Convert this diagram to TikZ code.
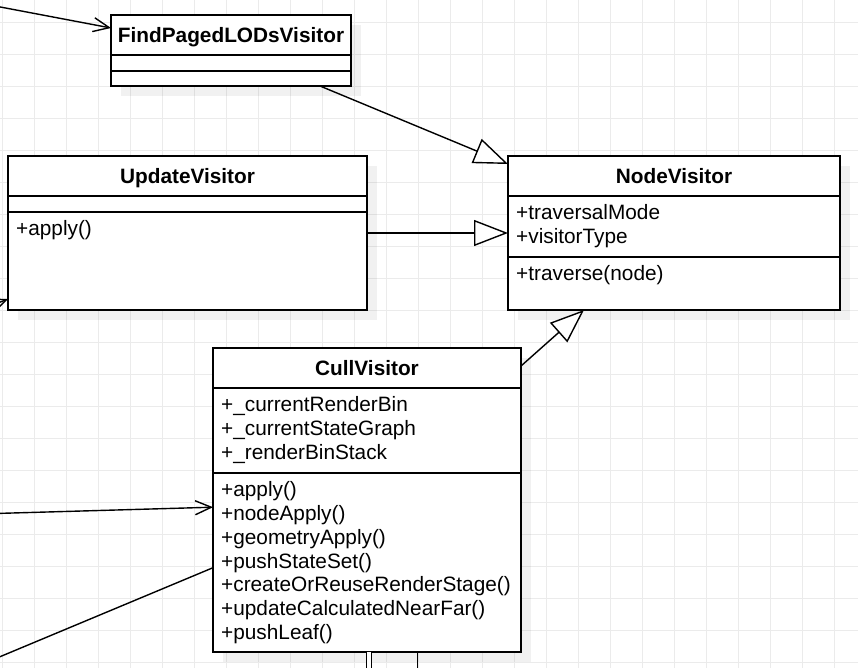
\documentclass[tikz,border=0pt]{standalone}
\usepackage{fontspec}
\setmainfont{Liberation Sans}
\usetikzlibrary{arrows.meta,backgrounds}

\definecolor{gridgray}{HTML}{EBEBEB}
\newcommand{\umlfont}{\fontsize{20.8pt}{23.8pt}\selectfont}

\tikzset{
  classbox/.style={draw, fill=white, line width=1.6pt, inner sep=0pt, outer sep=0pt, anchor=north west},
  classname/.style={classbox, minimum height=40pt, font=\umlfont\bfseries, text height=15pt, text depth=0pt},
  members/.style={anchor=north west, align=left, inner xsep=8pt, inner ysep=6.9pt, font=\umlfont},
  gen/.style={-{Triangle[open, length=34pt, width=26pt, fill=white]}, line width=1.4pt},
  assoc/.style={-{Straight Barb[length=16pt, width=14pt]}, line width=1.4pt},
  gridline/.style={gridgray, line width=0.8pt},
  shadowbox/.style={fill=black, fill opacity=0.055},
}

\begin{document}
\begin{tikzpicture}[x=1pt, y=-1pt]
  \useasboundingbox (0,0) rectangle (858,668);
  \clip (0,0) rectangle (858,668);

  % FindPagedLODsVisitor
  \node[classname, minimum width=240pt] (fpHead) at (111,15) {FindPagedLODsVisitor};
  \node[classbox, minimum width=240pt, minimum height=16pt] (fpAttr) at (fpHead.south west) {};
  \node[classbox, minimum width=240pt, minimum height=15pt] (fpMeth) at (fpAttr.south west) {};

  % UpdateVisitor
  \node[classname, minimum width=359pt] (upHead) at (8,156) {UpdateVisitor};
  \node[classbox, minimum width=359pt, minimum height=16pt] (upAttr) at (upHead.south west) {};
  \node[classbox, minimum width=359pt, minimum height=98pt] (upMeth) at (upAttr.south west) {};
  \node[members] (upMethTxt) at (upMeth.north west) {\strut+apply()};

  % NodeVisitor
  \node[classname, minimum width=332pt] (nvHead) at (508,156) {NodeVisitor};
  \node[classbox, minimum width=332pt, minimum height=61pt] (nvAttr) at (nvHead.south west) {};
  \node[members] (nvAttrTxt) at (nvAttr.north west) {\strut+traversalMode\\+visitorType};
  \node[classbox, minimum width=332pt, minimum height=53pt] (nvMeth) at (nvAttr.south west) {};
  \node[members] (nvMethTxt) at (nvMeth.north west) {\strut+traverse(node)};

  % CullVisitor
  \node[classname, minimum width=308pt] (cvHead) at (213,348) {CullVisitor};
  \node[classbox, minimum width=308pt, minimum height=85pt] (cvAttr) at (cvHead.south west) {};
  \node[members] (cvAttrTxt) at (cvAttr.north west)
    {\strut+\_currentRenderBin\\+\_currentStateGraph\\+\_renderBinStack};
  \node[classbox, minimum width=308pt, minimum height=179pt] (cvMeth) at (cvAttr.south west) {};
  \node[members] (cvMethTxt) at (cvMeth.north west)
    {\strut+apply()\\+nodeApply()\\+geometryApply()\\+pushStateSet()\\+createOrReuseRenderStage()\\+updateCalculatedNearFar()\\+pushLeaf()};

  % generalisations
  \draw[gen] ([xshift=89pt]fpMeth.south) -- ([yshift=-8pt]nvHead.north west);
  \draw[gen] ([yshift=28pt]upMeth.east) -- ([yshift=-6.5pt]nvAttr.west);
  \draw[gen] ([yshift=2pt]cvHead.east) -- ([xshift=-90pt]nvMeth.south);

  % links leaving the frame
  \coordinate (fpIn) at (-5,6);
  \coordinate (upIn) at (-60,326);
  \coordinate (cvIn) at (-5,513.5);
  \coordinate (cvIn2) at (-5,658.8);
  \coordinate (cvOut) at (369.2,690);
  \coordinate (cvOut2) at (417.7,690);
  \draw[assoc] (fpIn) -- ([yshift=7pt]fpHead.west);
  \draw[assoc] (upIn) -- ([yshift=-38pt]upMeth.west);
  \draw[assoc] (cvIn) -- ([yshift=55.3pt]cvMeth.west);
  \draw[line width=1.4pt] (cvIn2) -- ([yshift=-5.2pt]cvMeth.west);
  \draw[line width=1.4pt, double, double distance=3.6pt] ([xshift=2.2pt]cvMeth.south) -- (cvOut);
  \draw[line width=1.4pt] ([xshift=50.7pt]cvMeth.south) -- (cvOut2);

  \begin{scope}[on background layer]
    \foreach[evaluate={2.7+32*\i} as \x] \i in {0,...,26} {
      \draw[gridline] (\x,0) -- (\x,668);
    }
    \foreach[evaluate={22.3+32*\i} as \y] \i in {0,...,20} {
      \draw[gridline] (0,\y) -- (858,\y);
    }
    \foreach \h/\m in {fpHead/fpMeth, upHead/upMeth, nvHead/nvMeth, cvHead/cvMeth} {
      \fill[shadowbox] ([shift={(10,10)}]\h.north west) rectangle ([shift={(10,10)}]\m.south east);
    }
  \end{scope}
\end{tikzpicture}
\end{document}
